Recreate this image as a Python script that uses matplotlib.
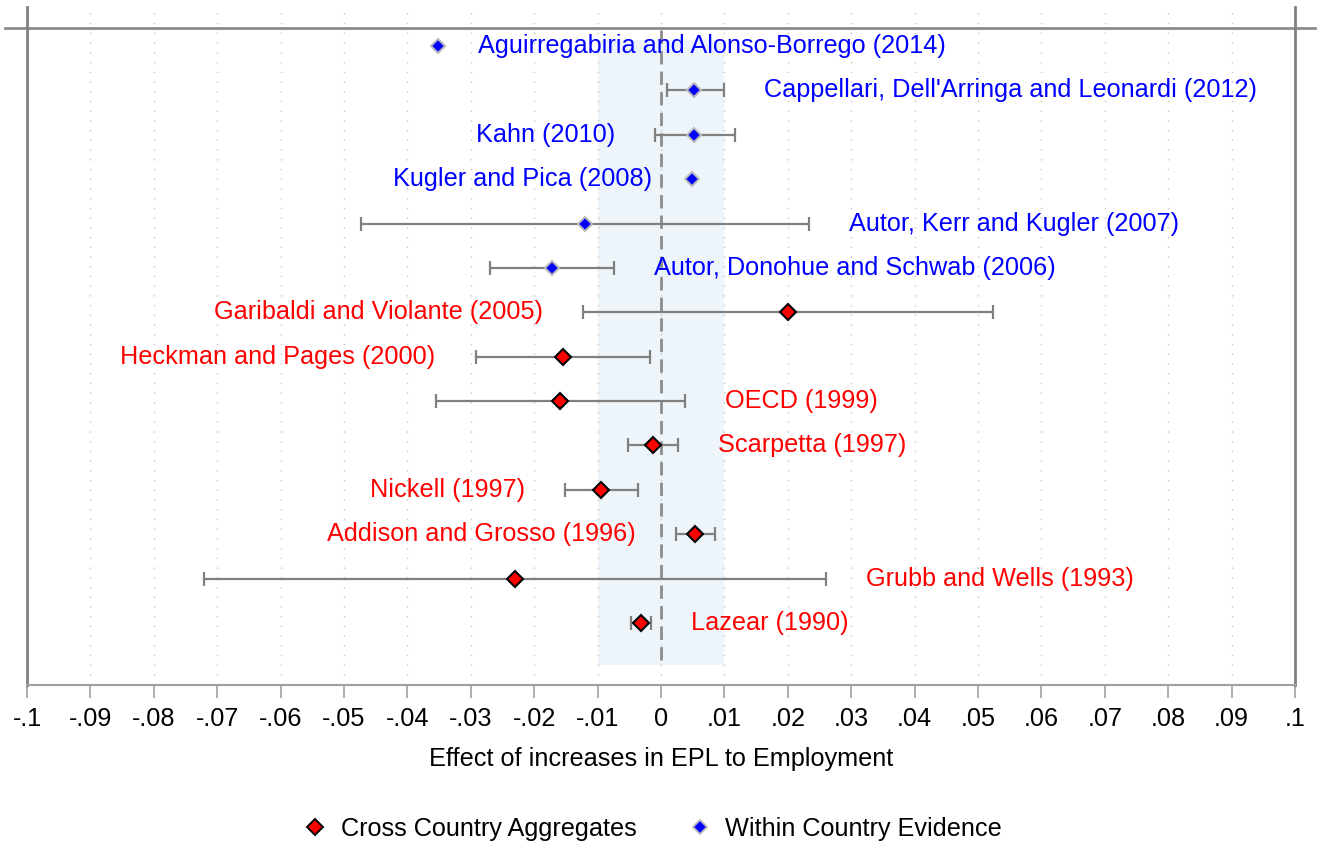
import numpy as np
import matplotlib
matplotlib.use("Agg")
import matplotlib.pyplot as plt
from matplotlib.lines import Line2D

plt.rcParams['font.family'] = ['Liberation Sans', 'DejaVu Sans']

# studies, top to bottom
studies = [
    "Aguirregabiria and Alonso-Borrego (2014)",
    "Cappellari, Dell'Arringa and Leonardi (2012)",
    "Kahn (2010)",
    "Kugler and Pica (2008)",
    "Autor, Kerr and Kugler (2007)",
    "Autor, Donohue and Schwab (2006)",
    "Garibaldi and Violante (2005)",
    "Heckman and Pages (2000)",
    "OECD (1999)",
    "Scarpetta (1997)",
    "Nickell (1997)",
    "Addison and Grosso (1996)",
    "Grubb and Wells (1993)",
    "Lazear (1990)",
]
effect = [-0.0352, 0.0052, 0.0052, 0.0049, -0.0120, -0.0172, 0.0200,
          -0.0155, -0.0159, -0.0013, -0.0095, 0.0054, -0.0230, -0.0032]
ci_low = [np.nan, 0.0009, -0.0009, np.nan, -0.0473, -0.0270, -0.0123,
          -0.0292, -0.0355, -0.0052, -0.0151, 0.0024, -0.0721, -0.0047]
ci_high = [np.nan, 0.0099, 0.0117, np.nan, 0.0233, -0.0074, 0.0524,
           -0.0017, 0.0038, 0.0027, -0.0036, 0.0085, 0.0260, -0.0016]
group = ["within"] * 6 + ["cross"] * 8
label_side = ["right", "right", "left", "left", "right", "right", "left",
              "left", "right", "right", "left", "left", "right", "right"]

xticks = np.round(np.arange(-0.1, 0.1001, 0.01), 2)

FS = 18.2


def fmt(v):
    if abs(v) < 1e-9:
        return "0"
    s = ("%.2f" % v).rstrip("0")
    return s.replace("0.", ".")


fig = plt.figure(figsize=(13.23, 8.46), dpi=100)
ax = fig.add_axes([27 / 1323, 161 / 846, 1268 / 1323, 678 / 846])

n = len(studies)
ypos = np.arange(n)
ax.set_xlim(-0.1, 0.1)
ax.set_ylim(14.40, -0.879)

# shaded band and zero line
ax.fill_between([-0.01, 0.01], -0.135, 13.95, color="#eef5fa", zorder=0, lw=0)
ax.plot([0, 0], [-0.36, 13.95], color="#8c8c8c", lw=2, ls=(0, (4.8, 2.6)), zorder=1)

# dotted grid
for t in xticks:
    ax.axvline(t, color="#c4c4c4", lw=1, ls=(0, (1, 6)), zorder=0.5)

# top line extending past the frame
ax.axhline(-0.406, xmin=-0.017, xmax=1.016, color="#8c8c8c", lw=2, clip_on=False)

styles = {
    "cross": dict(mfc="#ff0000", mec="black", ms=8.5, mew=1.5, txt="#ff0000"),
    "within": dict(mfc="#0000ff", mec="#b8b8b8", ms=7.5, mew=1.4, txt="#0000ff"),
}

for i in range(n):
    st = styles[group[i]]
    lo, hi = ci_low[i], ci_high[i]
    if not np.isnan(lo):
        ax.errorbar(effect[i], ypos[i], xerr=[[effect[i] - lo], [hi - effect[i]]],
                    fmt="none", ecolor="#808080", elinewidth=1.6, capsize=5,
                    capthick=1.6, zorder=2)
    ax.plot(effect[i], ypos[i], marker="D", ls="none", mfc=st["mfc"],
            mec=st["mec"], ms=st["ms"], mew=st["mew"], zorder=3)
    if label_side[i] == "right":
        anchor = effect[i] if np.isnan(hi) else hi
        ax.annotate(studies[i], (anchor, ypos[i]), xytext=(29, 0),
                    textcoords="offset points", ha="left", va="center",
                    fontsize=FS, color=st["txt"])
    else:
        anchor = effect[i] if np.isnan(lo) else lo
        ax.annotate(studies[i], (anchor, ypos[i]), xytext=(-29, 0),
                    textcoords="offset points", ha="right", va="center",
                    fontsize=FS, color=st["txt"])

ax.set_xticks(xticks)
ax.set_xticklabels([fmt(t) for t in xticks], fontsize=FS)
ax.set_yticks([])
ax.tick_params(axis="x", length=9.5, width=1.2, color="#a0a0a0", pad=6)
ax.spines["top"].set_visible(False)
ax.spines["bottom"].set_color("#a0a0a0")
ax.spines["bottom"].set_linewidth(1.5)
for side in ["left", "right"]:
    ax.spines[side].set_color("#808080")
    ax.spines[side].set_linewidth(2)

ax.set_xlabel("Effect of increases in EPL to Employment", fontsize=FS, labelpad=12)

handles = [
    Line2D([], [], marker="D", ls="none", mfc="#ff0000", mec="black", ms=8, mew=1.4),
    Line2D([], [], marker="D", ls="none", mfc="#0000ff", mec="#b8b8b8", ms=7, mew=1.3),
]
fig.legend(handles, ["Cross Country Aggregates", "Within Country Evidence"],
           loc="center", bbox_to_anchor=(0.493, 1 - 829 / 846), ncol=2, frameon=False,
           fontsize=FS, handletextpad=0.5, columnspacing=2.0, handlelength=1.0)

fig.savefig("out.png", dpi=100)
